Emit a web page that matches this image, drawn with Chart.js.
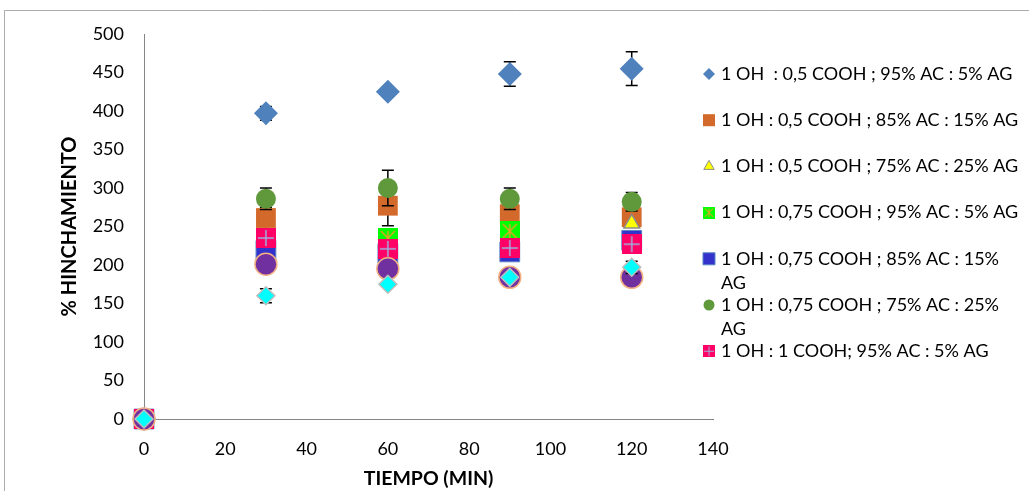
<!DOCTYPE html>
<html>
<head>
<meta charset="utf-8">
<script src="https://cdn.jsdelivr.net/npm/chart.js@4.4.1/dist/chart.umd.min.js"></script>
<style>
    html, body { margin: 0; background: #fff; }
    #caja { width: 1029px; height: 491px; }
</style>
</head>
<body>
<div id="caja"><canvas id="grafico" width="1029" height="491"></canvas></div>
<script>
const tiempos = [0, 30, 60, 90, 120];

const hinch1 = [0, 397, 425, 448, 455];
const hinch2 = [0, 261, 277, 266, 262];
const hinch3 = [0, 235, 228, 240, 254];
const hinch4 = [0, 232, 235, 244, 230];
const hinch5 = [0, 219, 215, 217, 232];
const hinch6 = [0, 286, 300, 286, 282];
const hinch7 = [0, 235, 221, 222, 227];
const hinch8 = [0, 201, 195, 184, 184];
const hinch9 = [0, 160, 175, 184, 197];

// desviaciones (barras de error)
const error1 = [0, 9, 6, 16, 22];
const error2 = [0, 14, 26, 10, 10];
const error6 = [0, 14, 23, 14, 12];
const error9 = [0, 9, 0, 0, 8];

const etiquetas = [
    ['1 OH  : 0,5 COOH ; 95% AC : 5% AG'],
    ['1 OH : 0,5 COOH ; 85% AC : 15% AG'],
    ['1 OH : 0,5 COOH ; 75% AC : 25% AG'],
    ['1 OH : 0,75 COOH ; 95% AC : 5% AG'],
    ['1 OH : 0,75 COOH ; 85% AC : 15%', 'AG'],
    ['1 OH : 0,75 COOH ; 75% AC : 25%', 'AG'],
    ['1 OH : 1 COOH; 95% AC : 5% AG'],
];

const FUENTE = 'Lato, "Open Sans", sans-serif';

// cuadrado relleno con una marca encima (estrella o cruz)
function marcador(tam, relleno, trazo, tipo) {
    const c = document.createElement('canvas');
    c.width = c.height = tam;
    const g = c.getContext('2d');
    g.fillStyle = relleno;
    g.fillRect(0, 0, tam, tam);
    g.strokeStyle = trazo;
    g.lineWidth = 1.5;
    g.beginPath();
    if (tipo === 'estrella') {
        g.moveTo(3, 3); g.lineTo(tam - 3, tam - 3);
        g.moveTo(tam - 3, 3); g.lineTo(3, tam - 3);
        g.moveTo(tam / 2, 3); g.lineTo(tam / 2, tam - 3);
    } else {
        g.moveTo(tam / 2, 2); g.lineTo(tam / 2, tam - 2);
        g.moveTo(2, tam / 2); g.lineTo(tam - 2, tam / 2);
    }
    g.stroke();
    return c;
}

const verdeEstrella = marcador(20, '#00FF00', '#E0A526', 'estrella');
const rosaCruz = marcador(20, '#FF0066', '#9FB0DD', 'mas');

function puntos(valores) {
    return tiempos.map((t, i) => ({ x: t, y: valores[i] }));
}

const series = [
    { valores: hinch1, errores: error1, estilo: 'rectRot', radio: 12, color: '#4F81BD', borde: '#4F81BD', bw: 0 },
    { valores: hinch2, errores: error2, estilo: 'rect', radio: 14, color: '#D36A2B', borde: '#D36A2B', bw: 0 },
    { valores: hinch3, estilo: 'triangle', radio: 9, color: '#FFFF00', borde: '#8C8C8C', bw: 1.5 },
    { valores: hinch4, estilo: verdeEstrella, radio: 14, color: '#00FF00', borde: '#00FF00', bw: 0 },
    { valores: hinch5, estilo: 'rect', radio: 14, color: '#3333CC', borde: '#5A85C4', bw: 1 },
    { valores: hinch6, errores: error6, estilo: 'circle', radio: 10, color: '#5F993B', borde: '#5F993B', bw: 0 },
    { valores: hinch7, estilo: rosaCruz, radio: 14, color: '#FF0066', borde: '#FF0066', bw: 0 },
    { valores: hinch8, estilo: 'circle', radio: 11, color: '#7030A0', borde: '#F4B183', bw: 1.5 },
    { valores: hinch9, errores: error9, estilo: 'rectRot', radio: 9, color: '#00FFFF', borde: '#BDBDBD', bw: 1.5 },
];

const datasets = series.map((s, i) => ({
    label: etiquetas[i] ? etiquetas[i].join(' ') : '',
    lineas: etiquetas[i] || null,
    data: puntos(s.valores),
    errores: s.errores || null,
    showLine: false,
    pointStyle: s.estilo,
    pointRadius: s.radio,
    pointBackgroundColor: s.color,
    pointBorderColor: s.borde,
    pointBorderWidth: s.bw,
    order: series.length - i,
    clip: false,
}));

// barras de error verticales, debajo de los marcadores de cada serie
const barrasError = {
    id: 'barrasError',
    beforeDatasetDraw(chart, args) {
        const ds = chart.data.datasets[args.index];
        if (!ds.errores) return;
        const { ctx, scales: { x, y } } = chart;
        ctx.save();
        ctx.strokeStyle = '#000';
        ctx.lineWidth = 1.5;
        ds.data.forEach((p, i) => {
            const e = ds.errores[i];
            if (!e) return;
            const px = x.getPixelForValue(p.x),
                arriba = y.getPixelForValue(p.y + e),
                abajo = y.getPixelForValue(p.y - e);
            ctx.beginPath();
            ctx.moveTo(px, arriba); ctx.lineTo(px, abajo);
            ctx.moveTo(px - 6, arriba); ctx.lineTo(px + 6, arriba);
            ctx.moveTo(px - 6, abajo); ctx.lineTo(px + 6, abajo);
            ctx.stroke();
        });
        ctx.restore();
    }
};

// marco del gráfico
const marco = {
    id: 'marco',
    beforeDraw(chart) {
        const ctx = chart.ctx;
        ctx.save();
        ctx.strokeStyle = '#ABABAB';
        ctx.lineWidth = 1;
        ctx.beginPath();
        ctx.moveTo(4.5, 491); ctx.lineTo(4.5, 10.5); ctx.lineTo(1029, 10.5);
        ctx.stroke();
        ctx.restore();
    }
};

// leyenda a la derecha, con texto partido en varias líneas
const leyenda = {
    id: 'leyenda',
    afterDraw(chart) {
        const ctx = chart.ctx;
        ctx.save();
        ctx.font = '18px ' + FUENTE;
        ctx.fillStyle = '#000';
        ctx.textBaseline = 'middle';
        let y = 74;
        chart.data.datasets.forEach(ds => {
            if (!ds.lineas) return;
            const st = ds.pointStyle;
            if (st instanceof HTMLCanvasElement) {
                ctx.drawImage(st, 703, y - 6, 12, 12);
            } else {
                ctx.fillStyle = ds.pointBackgroundColor;
                ctx.strokeStyle = ds.pointBorderColor;
                ctx.lineWidth = ds.pointBorderWidth ? 1 : 0;
                const r = st === 'rect' ? 8.5 : (st === 'circle' ? 5.5 : 6);
                Chart.helpers.drawPoint(ctx, {
                    pointStyle: st, rotation: 0, radius: r,
                    borderWidth: ds.pointBorderWidth ? 1 : 0
                }, 709, y);
            }
            ctx.fillStyle = '#000';
            ds.lineas.forEach((t, k) => ctx.fillText(t, 721, y + k * 24));
            y += 46.2;
        });
        ctx.restore();
    }
};

new Chart(document.getElementById('grafico'), {
    type: 'scatter',
    data: { datasets },
    options: {
        responsive: false,
        animation: false,
        events: [],
        layout: { padding: { top: 34, right: 316, left: 0, bottom: 0 } },
        plugins: { legend: { display: false }, tooltip: { enabled: false } },
        scales: {
            x: {
                type: 'linear',
                min: 0,
                max: 140,
                afterFit: s => { s.height = 72; },
                grid: { display: false, drawTicks: false },
                border: { display: true, color: '#868686', width: 1 },
                ticks: { stepSize: 20, padding: 19, color: '#000', font: { family: FUENTE, size: 18 } },
                title: {
                    display: true, text: 'TIEMPO (MIN)', color: '#000',
                    font: { family: FUENTE, size: 19.5, weight: 'bold' },
                    padding: { top: 0, bottom: 1 }
                }
            },
            y: {
                min: 0,
                max: 500,
                afterFit: s => { s.width = 144; },
                grid: { display: false, drawTicks: false },
                border: { display: true, color: '#868686', width: 1 },
                ticks: { stepSize: 50, padding: 20, color: '#000', font: { family: FUENTE, size: 18 } },
                title: {
                    display: true, text: '% HINCHAMIENTO', color: '#000',
                    font: { family: FUENTE, size: 20, weight: 'bold' },
                    padding: { top: 58, bottom: 0 }
                }
            }
        }
    },
    plugins: [marco, barrasError, leyenda]
});
</script>
</body>
</html>
